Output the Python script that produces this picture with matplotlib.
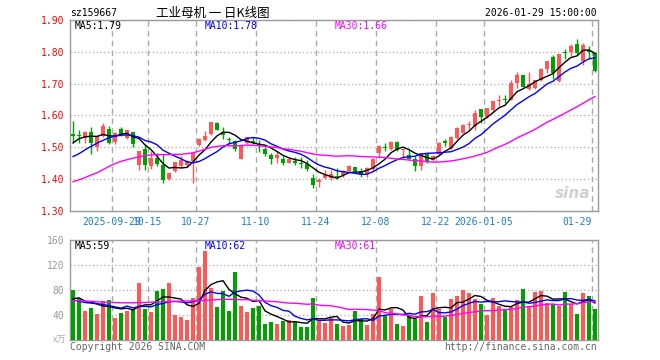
"""工业母机 (sz159667) 日K线图 复刻"""

import matplotlib
matplotlib.use("Agg")
import matplotlib.pyplot as plt
import numpy as np
import pandas as pd

MONO = "DejaVu Sans Mono"
CJK = ["Noto Sans CJK SC", "DejaVu Sans"]

# ----------------------------------------------------------------------
# Data
# ----------------------------------------------------------------------
opens = [1.542, 1.538, 1.528, 1.549, 1.500, 1.535, 1.559, 1.518, 1.559, 1.528,
         1.548, 1.445, 1.496, 1.442, 1.465, 1.446, 1.402, 1.425, 1.441, 1.443,
         1.457, 1.506, 1.524, 1.542, 1.577, 1.547, 1.527, 1.519, 1.464, 1.515,
         1.521, 1.509, 1.495, 1.477, 1.466, 1.464, 1.452, 1.456, 1.452, 1.448,
         1.404, 1.392, 1.405, 1.404, 1.410, 1.412, 1.427, 1.437, 1.425, 1.417,
         1.431, 1.483, 1.500, 1.496, 1.516, 1.492, 1.477, 1.464, 1.441, 1.478,
         1.459, 1.478, 1.519, 1.499, 1.529, 1.546, 1.570, 1.567, 1.619, 1.595,
         1.618, 1.645, 1.651, 1.650, 1.702, 1.727, 1.683, 1.686, 1.712, 1.745,
         1.783, 1.709, 1.799, 1.800, 1.826, 1.770, 1.807, 1.796]
highs = [1.584, 1.555, 1.550, 1.563, 1.539, 1.578, 1.568, 1.548, 1.563, 1.556,
         1.549, 1.490, 1.509, 1.488, 1.482, 1.480, 1.422, 1.455, 1.474, 1.459,
         1.485, 1.530, 1.551, 1.580, 1.579, 1.563, 1.532, 1.524, 1.509, 1.532,
         1.532, 1.524, 1.500, 1.482, 1.488, 1.473, 1.467, 1.469, 1.469, 1.459,
         1.415, 1.404, 1.428, 1.430, 1.436, 1.428, 1.443, 1.439, 1.434, 1.439,
         1.466, 1.507, 1.513, 1.519, 1.519, 1.499, 1.492, 1.473, 1.483, 1.483,
         1.475, 1.517, 1.525, 1.536, 1.564, 1.574, 1.584, 1.616, 1.620, 1.624,
         1.647, 1.663, 1.664, 1.710, 1.737, 1.728, 1.737, 1.712, 1.750, 1.772,
         1.790, 1.793, 1.810, 1.825, 1.840, 1.829, 1.817, 1.800]
lows = [1.513, 1.513, 1.513, 1.478, 1.490, 1.532, 1.509, 1.512, 1.536, 1.526,
        1.500, 1.429, 1.430, 1.431, 1.440, 1.387, 1.398, 1.421, 1.435, 1.438,
        1.387, 1.503, 1.521, 1.540, 1.553, 1.525, 1.509, 1.487, 1.462, 1.511,
        1.509, 1.484, 1.472, 1.448, 1.452, 1.446, 1.450, 1.445, 1.436, 1.427,
        1.371, 1.375, 1.400, 1.396, 1.402, 1.408, 1.425, 1.420, 1.408, 1.408,
        1.426, 1.467, 1.487, 1.492, 1.487, 1.467, 1.462, 1.426, 1.429, 1.452,
        1.456, 1.475, 1.504, 1.494, 1.525, 1.544, 1.551, 1.556, 1.577, 1.593,
        1.614, 1.630, 1.638, 1.649, 1.685, 1.688, 1.680, 1.682, 1.708, 1.735,
        1.716, 1.706, 1.779, 1.787, 1.790, 1.760, 1.777, 1.737]
closes = [1.537, 1.536, 1.549, 1.513, 1.536, 1.568, 1.515, 1.545, 1.540, 1.553,
          1.512, 1.489, 1.444, 1.467, 1.448, 1.396, 1.420, 1.453, 1.459, 1.457,
          1.482, 1.527, 1.537, 1.579, 1.555, 1.540, 1.524, 1.494, 1.508, 1.531,
          1.513, 1.503, 1.480, 1.463, 1.476, 1.452, 1.464, 1.452, 1.447, 1.432,
          1.383, 1.396, 1.414, 1.417, 1.406, 1.425, 1.440, 1.425, 1.414, 1.434,
          1.464, 1.504, 1.497, 1.516, 1.491, 1.496, 1.464, 1.441, 1.481, 1.457,
          1.473, 1.513, 1.515, 1.531, 1.562, 1.571, 1.573, 1.609, 1.594, 1.623,
          1.645, 1.650, 1.649, 1.702, 1.727, 1.691, 1.700, 1.710, 1.745, 1.770,
          1.733, 1.793, 1.797, 1.818, 1.795, 1.820, 1.800, 1.740]
# 成交量 (万手)
volumes = [79.5, 68, 47, 52, 42, 63, 64, 36, 44, 47,
           50, 91, 49, 45, 78, 81, 91, 40.5, 37, 32,
           68, 117, 143, 83, 53.5, 78, 47, 109, 55, 45,
           52, 55, 26, 29, 26, 31, 32, 29, 21, 21,
           68, 31, 28, 35, 26, 23, 24, 47, 33.5, 24,
           42, 100.5, 40.5, 50, 26, 23, 40.5, 33, 70, 29,
           76, 50, 37, 65, 71, 80, 75, 65, 57, 40.5,
           68, 55, 50, 53.5, 64.5, 81, 53.5, 77.5, 79, 60,
           57, 55, 77.5, 57, 42, 76, 71, 50]

# MA values before the window is full
ma5_head = [1.514, 1.527, 1.533, 1.535]
ma10_head = [1.471, 1.480, 1.492, 1.503, 1.513, 1.522, 1.530, 1.535, 1.538]
ma30_head = [1.392, 1.398, 1.405, 1.413, 1.420, 1.430, 1.440, 1.449, 1.456, 1.461,
             1.466, 1.470, 1.474, 1.476, 1.477, 1.477, 1.477, 1.478, 1.478, 1.480,
             1.483, 1.488, 1.494, 1.500, 1.503, 1.505, 1.505, 1.505, 1.505]
vma5_head = [66, 67.5, 62, 60.5]
vma10_head = [64, 62, 60, 59, 58, 57, 55, 53, 51]
vma30_head = [63, 63, 62, 62, 61, 61, 60, 60, 59.5, 59.5,
              59.5, 60, 60, 60.5, 61, 61, 61.5, 62, 62, 62.5,
              62.5, 63, 63.5, 64, 64.5, 65, 65, 65, 64.5]

tick_idx = [7, 13, 21, 31, 41, 51, 61, 69, 87]
tick_labels = ["2025-09-29", "10-15", "10-27", "11-10", "11-24",
               "12-08", "12-22", "2026-01-05", "01-29"]

RED = "#ff5656"
GREEN = "#00a000"
GRID = "#aaaaaa"


def moving_avg(values, n, head):
    s = pd.Series(values, dtype=float).rolling(n).mean()
    s.iloc[:n - 1] = head
    return s.to_numpy()


# ----------------------------------------------------------------------
# Figure
# ----------------------------------------------------------------------
fig = plt.figure(figsize=(6.6, 3.6), dpi=100)
ax = fig.add_axes([70 / 660, 149 / 360, 528 / 660, 191 / 360])
axv = fig.add_axes([70 / 660, 20 / 360, 528 / 660, 100 / 360])

x = np.arange(len(closes))
o = np.array(opens)
c = np.array(closes)
up = c >= o
cols = np.where(up, RED, GREEN)

# ── K 线 ──────────────────────────────────────────
ax.vlines(x, lows, highs, colors=cols, linewidth=1, zorder=3)
body_bot = np.minimum(o, c)
body_h = np.maximum(np.abs(c - o), 0.0025)
ax.bar(x, body_h, bottom=body_bot, width=0.8, color=cols, linewidth=0, zorder=4)

ma5 = moving_avg(closes, 5, ma5_head)
ma10 = moving_avg(closes, 10, ma10_head)
ma30 = moving_avg(closes, 30, ma30_head)
ax.plot(x, ma5, color="black", lw=1, zorder=5)
ax.plot(x, ma10, color="#0000ff", lw=1, zorder=5)
ax.plot(x, ma30, color="#ff00ff", lw=1, zorder=5)

ax.set_xlim(-0.5, len(closes) - 0.5)
ax.set_ylim(1.30, 1.90)
ax.set_yticks([1.30, 1.40, 1.50, 1.60, 1.70, 1.80, 1.90])
ax.set_yticklabels([f"{v:.2f}" for v in ax.get_yticks()],
                   color="#ff0000", family=MONO, fontsize=7)
ax.grid(axis="y", linestyle=(0, (1, 2)), color=GRID, lw=0.9)

tick_pos = [i - 0.5 for i in tick_idx]
for p in tick_pos:
    ax.axvline(p, color=GRID, ls=(0, (4, 3)), lw=1, zorder=1)
    axv.axvline(p, color=GRID, ls=(0, (4, 3)), lw=1, zorder=1)
ax.set_xticks(tick_pos)
ax.set_xticklabels(tick_labels, color="#1a7fd0", family=MONO, fontsize=7)
ax.get_xticklabels()[-1].set_ha("right")
ax.tick_params(length=0, pad=4)

# ── 成交量 ──────────────────────────────────────────
axv.bar(x, volumes, width=0.8, color=cols, linewidth=0, zorder=3)
vma5 = moving_avg(volumes, 5, vma5_head)
vma10 = moving_avg(volumes, 10, vma10_head)
vma30 = moving_avg(volumes, 30, vma30_head)
axv.plot(x, vma5, color="black", lw=1, zorder=5)
axv.plot(x, vma10, color="#0000ff", lw=1, zorder=5)
axv.plot(x, vma30, color="#ff00ff", lw=1, zorder=5)
axv.set_xlim(-0.5, len(closes) - 0.5)
axv.set_ylim(0, 160)
axv.set_yticks([40, 80, 120, 160])
axv.set_yticklabels(["40", "80", "120", "160"], color="#999999",
                    family=MONO, fontsize=7)
axv.set_xticks([])
axv.grid(axis="y", linestyle=(0, (1, 2)), color=GRID, lw=0.9)
axv.tick_params(length=0, pad=4)

for a in (ax, axv):
    a.set_axisbelow(True)
    for sp in a.spines.values():
        sp.set_color("#999999")
        sp.set_linewidth(1)

# ── 文字 ──────────────────────────────────────────
fig.text(70 / 660, 1 - 13 / 360, "sz159667", family=MONO, fontsize=7,
         va="center", ha="left")
fig.text(213 / 660, 1 - 13 / 360, "工业母机 一 日K线图", family=CJK,
         fontsize=9, va="center", ha="center")
fig.text(597 / 660, 1 - 13 / 360, "2026-01-29 15:00:00", family=MONO,
         fontsize=7, va="center", ha="right")

for px, txt, col in [(75, f"MA5:{ma5[-1]:.2f}", "black"),
                     (205, f"MA10:{ma10[-1]:.2f}", "#0000ff"),
                     (335, f"MA30:{ma30[-1]:.2f}", "#ff00ff")]:
    fig.text(px / 660, 1 - 26 / 360, txt, family=MONO, fontsize=7,
             va="center", color=col)
for px, txt, col in [(75, f"MA5:{vma5[-1]:.0f}", "black"),
                     (205, f"MA10:{vma10[-1]:.0f}", "#0000ff"),
                     (335, f"MA30:{vma30[-1]:.0f}", "#ff00ff")]:
    fig.text(px / 660, 1 - 246 / 360, txt, family=MONO, fontsize=7,
             va="center", color=col)

fig.text(66 / 660, 1 - 340 / 360, "x万", family=CJK, fontsize=6.5,
         va="center", ha="right", color="#aaaaaa")
fig.text(70 / 660, 1 - 347 / 360, "Copyright 2026 SINA.COM", family=MONO,
         fontsize=7, va="center", ha="left", color="#666666")
fig.text(597 / 660, 1 - 347 / 360, "http://finance.sina.com.cn", family=MONO,
         fontsize=7, va="center", ha="right", color="#666666")

# sina 水印
ax.text(0.985, 0.09, "sina", transform=ax.transAxes, ha="right", va="center",
        fontsize=11, fontweight="bold", style="italic", color="#d0d0d0",
        zorder=2)

fig.savefig("out.png", dpi=100, facecolor="white")
